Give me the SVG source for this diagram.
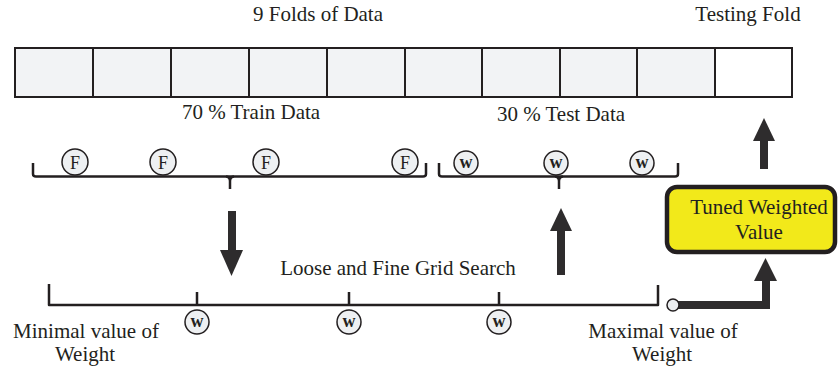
<svg xmlns="http://www.w3.org/2000/svg" width="838" height="368" viewBox="0 0 838 368">
<style>
text{font-family:"Liberation Serif","Times New Roman",serif;fill:#231f20}
.lbl{font-size:21px;text-anchor:middle}
.cell{fill:#f2f3f5;stroke:#231f20;stroke-width:2}
.last{fill:#ffffff;stroke:#231f20;stroke-width:2}
.brace{fill:none;stroke:#231f20;stroke-width:2.5;stroke-linejoin:round}
.tok{fill:#eef0f2;stroke:#231f20;stroke-width:1.5}
.tt{font-size:18px;text-anchor:middle}
.tw{font-size:18px;text-anchor:middle;font-weight:bold}
.arrow{fill:none;stroke:#2e2c2d;stroke-width:8}
.head{fill:#2e2c2d}
</style>
<g id="title-folds"><text class="lbl" x="318" y="21">9 Folds of Data</text></g>
<g id="title-testing"><text class="lbl" x="748" y="21">Testing Fold</text></g>
<g id="folds">
<rect class="cell" x="15" y="48" width="78" height="49"/>
<rect class="cell" x="93" y="48" width="78" height="49"/>
<rect class="cell" x="171" y="48" width="78" height="49"/>
<rect class="cell" x="249" y="48" width="78" height="49"/>
<rect class="cell" x="327" y="48" width="78" height="49"/>
<rect class="cell" x="405" y="48" width="77" height="49"/>
<rect class="cell" x="482" y="48" width="78" height="49"/>
<rect class="cell" x="560" y="48" width="77" height="49"/>
<rect class="cell" x="637" y="48" width="78" height="49"/>
<rect class="last" x="715" y="48" width="77" height="49"/>
</g>
<g id="train-label"><text class="lbl" x="251" y="119">70 % Train Data</text></g>
<g id="test-label"><text class="lbl" x="561" y="121">30 % Test Data</text></g>
<g id="train-brace">
<path class="brace" d="M33,163 V174 Q33,176.5 36,176.5 H423 Q426,176.5 426,174 V163"/>
<path class="brace" d="M226,176.5 Q230,177 230,181 V189 M234,176.5 Q230,177 230,181"/>
<circle class="tok" cx="75" cy="162" r="13"/><text class="tt" x="75" y="168.5">F</text>
<circle class="tok" cx="163" cy="162" r="13"/><text class="tt" x="163" y="168.5">F</text>
<circle class="tok" cx="266" cy="162" r="13"/><text class="tt" x="266" y="168.5">F</text>
<circle class="tok" cx="405" cy="162" r="13"/><text class="tt" x="405" y="168.5">F</text>
</g>
<g id="test-brace">
<path class="brace" d="M439,163 V174 Q439,176.5 442,176.5 H675 Q678,176.5 678,174 V163"/>
<path class="brace" d="M555,176.5 Q559,177 559,181 V189 M563,176.5 Q559,177 559,181"/>
<circle class="tok" cx="466" cy="163" r="12"/><text class="tw" x="466" y="168">w</text>
<circle class="tok" cx="556" cy="163" r="12"/><text class="tw" x="556" y="168">w</text>
<circle class="tok" cx="642" cy="163" r="12"/><text class="tw" x="642" y="168">w</text>
</g>
<g id="grid-search">
<text class="lbl" x="398" y="275">Loose and Fine Grid Search</text>
<path class="brace" d="M49,284 V305 H658 V285 M197,292 V305 M349,292 V305 M499,292 V305"/>
<circle class="tok" cx="197" cy="322" r="12"/><text class="tw" x="197" y="327">w</text>
<circle class="tok" cx="349" cy="322" r="12"/><text class="tw" x="349" y="327">w</text>
<circle class="tok" cx="499" cy="322" r="12"/><text class="tw" x="499" y="327">w</text>
</g>
<g id="min-label"><text class="lbl" x="86" y="338">Minimal value of</text><text class="lbl" x="85" y="361">Weight</text></g>
<g id="max-label"><text class="lbl" x="663" y="338">Maximal value of</text><text class="lbl" x="662" y="361">Weight</text></g>
<g id="tuned">
<rect x="667" y="187" width="168" height="65" rx="10" fill="#f2e91a" stroke="#231f20" stroke-width="4.5"/>
<text class="lbl" x="759" y="214">Tuned Weighted</text>
<text class="lbl" x="759" y="239">Value</text>
</g>
<g id="connectors">
<path class="arrow" d="M232,211 V252"/>
<polygon class="head" points="220,250 243,250 231.5,276"/>
<path class="arrow" d="M561,275 V228"/>
<polygon class="head" points="550,231 572,231 561,208"/>
<path class="arrow" d="M764,169 V138"/>
<polygon class="head" points="753,141 775,141 764,118"/>
<path class="arrow" d="M678,305 H766 V278" stroke-linejoin="miter"/>
<polygon class="head" points="754,281 777,281 765.5,258"/>
<circle cx="673" cy="305" r="6" fill="#eceef0" stroke="#231f20" stroke-width="1.5"/>
</g>
</svg>
